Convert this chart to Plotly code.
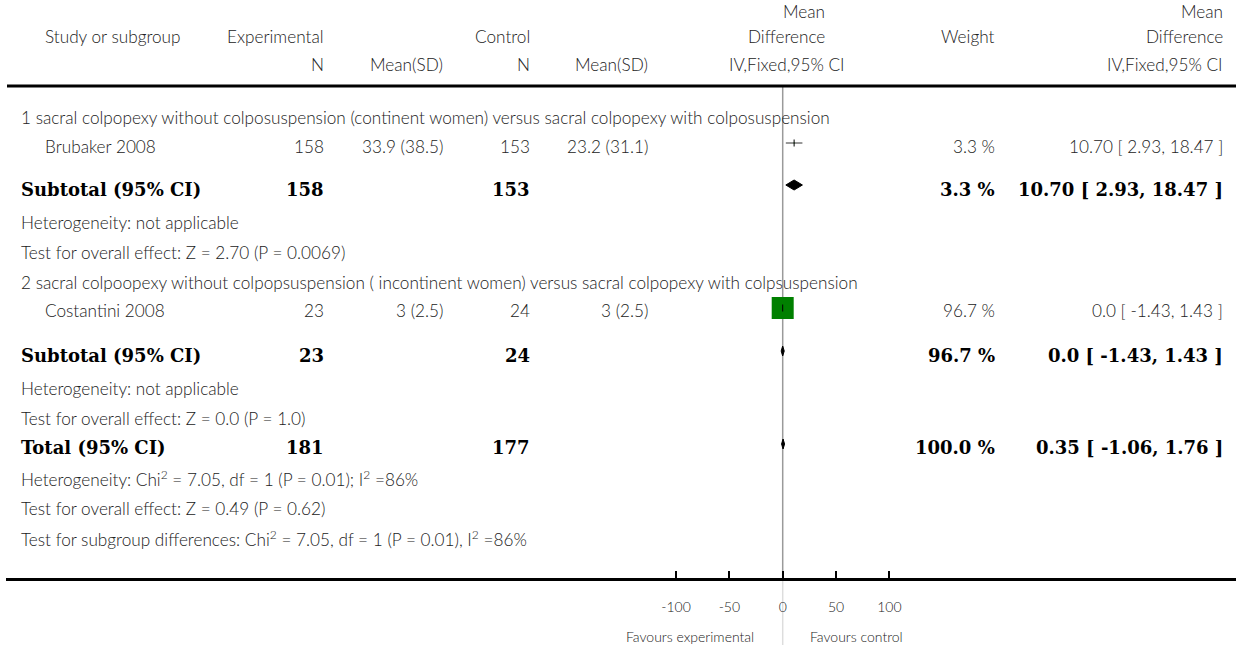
import plotly.graph_objects as go

# ---------------- data ----------------
subgroup_titles = [
    "1 sacral colpopexy without colposuspension (continent women) versus sacral colpopexy with colposuspension",
    "2 sacral colpoopexy without colpopsuspension ( incontinent women) versus sacral colpopexy with colpsuspension",
]
studies = ["Brubaker 2008", "Costantini 2008"]
exp_n = [158, 23]
exp_mean = [33.9, 3]
exp_sd = [38.5, 2.5]
ctrl_n = [153, 24]
ctrl_mean = [23.2, 3]
ctrl_sd = [31.1, 2.5]
md = [10.70, 0.0]
md_label = ["10.70", "0.0"]
ci_lo = [2.93, -1.43]
ci_hi = [18.47, 1.43]
weight = [3.3, 96.7]

sub_exp_n = [158, 23]
sub_ctrl_n = [153, 24]
sub_md = [10.70, 0.0]
sub_md_label = ["10.70", "0.0"]
sub_lo = [2.93, -1.43]
sub_hi = [18.47, 1.43]
sub_weight = [3.3, 96.7]
sub_het = ["Heterogeneity: not applicable", "Heterogeneity: not applicable"]
sub_test = ["Test for overall effect: Z = 2.70 (P = 0.0069)",
            "Test for overall effect: Z = 0.0 (P = 1.0)"]

total_exp_n = 181
total_ctrl_n = 177
total_md = 0.35
total_lo = -1.06
total_hi = 1.76
total_weight = 100.0
total_notes = [
    "Heterogeneity: Chi<sup>2</sup> = 7.05, df = 1 (P = 0.01); I<sup>2</sup> =86%",
    "Test for overall effect: Z = 0.49 (P = 0.62)",
    "Test for subgroup differences: Chi<sup>2</sup> = 7.05, df = 1 (P = 0.01), I<sup>2</sup> =86%",
]
axis_ticks = [-100, -50, 0, 50, 100]
favours = ["Favours experimental", "Favours control"]

# ---------------- layout constants ----------------
W, H = 1236, 645
ML, MB = 6, 67
PW, PH = W - ML, H - MB
X0PX = 782.7      # pixel position of MD = 0
PXU = 1.067       # pixels per MD unit
xrange_ = [(ML - X0PX) / PXU, (W - X0PX) / PXU]

# column right edges / positions (pixels)
C_STUDY = 44
C_LEFT = 20
C_EN = 325
C_EM = 444
C_CN = 531
C_CM = 649
C_FOREST_HDR = 826
C_FOREST_SUB = 787
C_W = 996
C_MD = 1224

# row positions (pixels from top)
R_H1, R_H2, R_H3 = 12, 37, 64
R_RULE = 86
ROW_TITLE = [117, 282]
ROW_STUDY = [146, 311]
ROW_SUB = [189, 355]
ROW_HET = [222, 388]
ROW_TEST = [252, 418]
ROW_TOTAL = 447
ROW_TNOTES = [478, 508, 538]
ROW_FAV = 636

BODY = dict(family="Lato", size=17.2, color="#222222", weight=300)
BOLD = dict(family="DejaVu Serif", size=18, color="black", weight="bold")
SMALL = dict(family="Lato", size=14, color="#222222", weight=300)


def px(x):
    return (x - ML) / PW


def py(y):
    return (PH - y) / PH


ann = []


def text(t, x, y, anchor="left", font=BODY):
    ann.append(dict(text=t, x=px(x), y=py(y), xref="paper", yref="paper",
                    xanchor=anchor, yanchor="middle", showarrow=False,
                    font=font, borderpad=0))


# headers
text("Study or subgroup", C_STUDY, R_H2)
text("Experimental", C_EN, R_H2, "right")
text("Control", C_CN, R_H2, "right")
text("Mean", C_FOREST_HDR, R_H1, "right")
text("Difference", C_FOREST_HDR, R_H2, "right")
text("Weight", C_W, R_H2, "right")
text("Mean", C_MD, R_H1, "right")
text("Difference", C_MD, R_H2, "right")
text("N", C_EN, R_H3, "right")
text("Mean(SD)", C_EM, R_H3, "right")
text("N", C_CN, R_H3, "right")
text("Mean(SD)", C_CM, R_H3, "right")
text("IV,Fixed,95% CI", C_FOREST_SUB, R_H3, "center")
text("IV,Fixed,95% CI", C_MD, R_H3, "right")

fig = go.Figure()

# subgroup content
for i in range(len(studies)):
    text(subgroup_titles[i], C_LEFT, ROW_TITLE[i])
    y = ROW_STUDY[i]
    text(studies[i], C_STUDY, y)
    text(str(exp_n[i]), C_EN, y, "right")
    text(f"{exp_mean[i]:g} ({exp_sd[i]:g})", C_EM, y, "right")
    text(str(ctrl_n[i]), C_CN, y, "right")
    text(f"{ctrl_mean[i]:g} ({ctrl_sd[i]:g})", C_CM, y, "right")
    text(f"{weight[i]:.1f} %", C_W, y, "right")
    text(f"{md_label[i]} [ {ci_lo[i]:.2f}, {ci_hi[i]:.2f} ]", C_MD, y, "right")

    ys = ROW_SUB[i]
    text("Subtotal (95% CI)", C_LEFT, ys, font=BOLD)
    text(str(sub_exp_n[i]), C_EN, ys, "right", BOLD)
    text(str(sub_ctrl_n[i]), C_CN, ys, "right", BOLD)
    text(f"{sub_weight[i]:.1f} %", C_W, ys, "right", BOLD)
    text(f"{sub_md_label[i]} [ {sub_lo[i]:.2f}, {sub_hi[i]:.2f} ]", C_MD, ys, "right", BOLD)
    text(sub_het[i], C_LEFT, ROW_HET[i])
    text(sub_test[i], C_LEFT, ROW_TEST[i])

# total
text("Total (95% CI)", C_LEFT, ROW_TOTAL, font=BOLD)
text(str(total_exp_n), C_EN, ROW_TOTAL, "right", BOLD)
text(str(total_ctrl_n), C_CN, ROW_TOTAL, "right", BOLD)
text(f"{total_weight:.1f} %", C_W, ROW_TOTAL, "right", BOLD)
text(f"{total_md:.2f} [ {total_lo:.2f}, {total_hi:.2f} ]", C_MD, ROW_TOTAL, "right", BOLD)
for t, y in zip(total_notes, ROW_TNOTES):
    text(t, C_LEFT, y)

text(favours[0], 755, ROW_FAV, "right", SMALL)
text(favours[1], 809, ROW_FAV, "left", SMALL)

MOFF = 3  # markers sit slightly above the text centre
# CI lines
cx, cy = [], []
for i in range(len(studies)):
    cx += [ci_lo[i], ci_hi[i], None]
    cy += [ROW_STUDY[i] - MOFF] * 2 + [None]
fig.add_trace(go.Scatter(x=cx, y=cy, mode="lines", line=dict(color="#333333", width=1),
                         hoverinfo="skip", showlegend=False))
# weight squares
fig.add_trace(go.Scatter(x=md, y=[r - MOFF for r in ROW_STUDY], mode="markers",
                         marker=dict(symbol="square", color="#008000", opacity=1,
                                     size=[22 * w / max(weight) for w in weight],
                                     line=dict(width=0)),
                         hoverinfo="skip", showlegend=False))
fig.add_trace(go.Scatter(x=md, y=[r - MOFF for r in ROW_STUDY], mode="markers",
                         marker=dict(symbol="line-ns", size=5, opacity=1,
                                     line=dict(color="black", width=1)),
                         hoverinfo="skip", showlegend=False))

# diamonds
DH = 5


def diamond(m, lo, hi, y):
    fig.add_trace(go.Scatter(x=[lo, m, hi, m, lo], y=[y, y - DH, y, y + DH, y],
                             mode="lines", fill="toself", fillcolor="black",
                             line=dict(color="black", width=1),
                             hoverinfo="skip", showlegend=False))


for i in range(len(sub_md)):
    diamond(sub_md[i], sub_lo[i], sub_hi[i], ROW_SUB[i] - 4)
diamond(total_md, total_lo, total_hi, ROW_TOTAL - 3)

shapes = [
    dict(type="line", xref="paper", yref="y", x0=px(7), x1=1, y0=R_RULE, y1=R_RULE,
         line=dict(color="black", width=3)),
    dict(type="line", xref="x", yref="y", x0=0, x1=0, y0=R_RULE, y1=PH,
         line=dict(color="#9a9a9a", width=1.5), layer="below"),
    dict(type="line", xref="paper", yref="paper", x0=px(X0PX), x1=px(X0PX), y0=py(H), y1=0,
         line=dict(color="#dddddd", width=1.5), layer="below"),
]

fig.update_layout(
    width=W, height=H,
    margin=dict(l=ML, r=0, t=0, b=MB),
    paper_bgcolor="white", plot_bgcolor="white",
    showlegend=False,
    annotations=ann, shapes=shapes,
    xaxis=dict(range=xrange_, showgrid=False, zeroline=False, showline=True,
               linecolor="black", linewidth=3, ticks="inside", ticklen=7, tickwidth=2,
               tickcolor="black", tickvals=axis_ticks, ticktext=[str(t) for t in axis_ticks],
               tickfont=dict(family="Lato", size=14, color="#222222", weight=300),
               ticklabelstandoff=14, fixedrange=True),
    yaxis=dict(range=[PH, 0], visible=False, fixedrange=True),
)

fig.write_html("out.html", config={"displayModeBar": False},
               post_script="document.body.style.margin='0px';document.body.style.overflow='hidden';")
